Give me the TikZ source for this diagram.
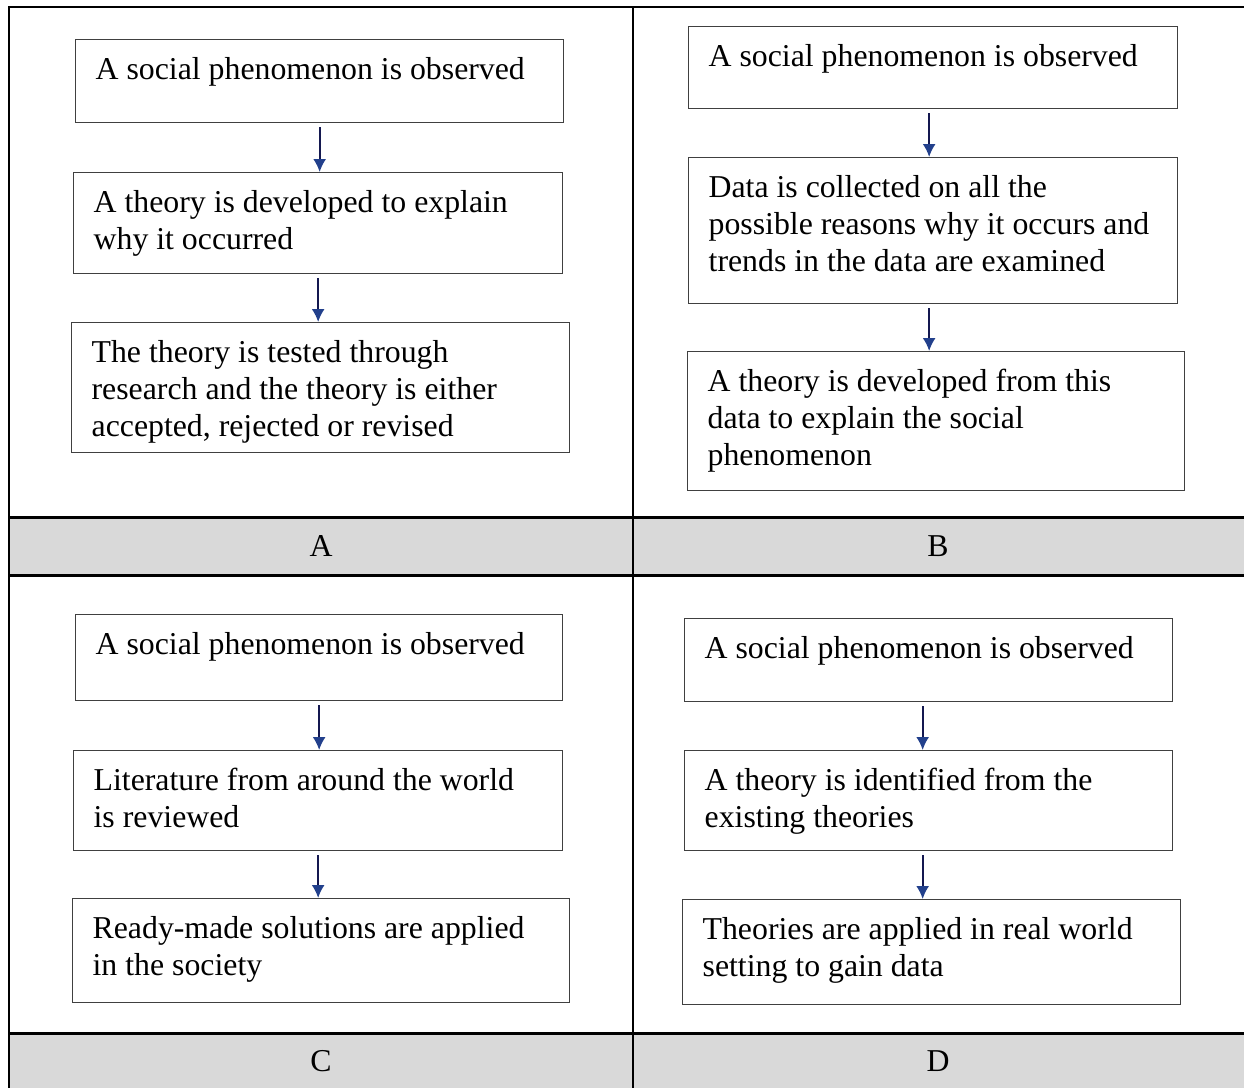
\documentclass[tikz,border=0pt]{standalone}
\usepackage{fontspec}
\setmainfont{Liberation Serif}
\usepackage{xcolor}
\usetikzlibrary{arrows.meta}

\definecolor{rowfill}{HTML}{D9D9D9}
\definecolor{boxline}{HTML}{404040}
\definecolor{arrowline}{HTML}{141850}
\definecolor{arrowhead}{HTML}{22408C}

\begin{document}
\begin{tikzpicture}[x=1pt,y=-1pt,
                    every node/.style={font=\fontsize{31.8}{36.7}\selectfont},
                    stepbox/.style 2 args={draw=boxline,line width=1.3pt,anchor=north west,
                      align=flush left,inner xsep=20pt,inner ysep=0pt,text height=40pt,
                      text width=#1pt-40pt,text depth=#2pt-40pt},
                    flow/.style={draw=arrowline,line width=1.8pt,
                      -{Latex[length=13pt,width=13pt,color=arrowhead]}},
                    rule/.style={line width=1.5pt}]

  % table frame
  \useasboundingbox (0,0) rectangle (1244,1088);
  \fill[rowfill] (9,517) rectangle (1244,575);
  \fill[rowfill] (9,1033) rectangle (1244,1088);
  \draw[rule,line width=2.6pt] (8,7) -- (1244,7);
  \draw[rule,line width=2pt] (9,6) -- (9,1088);
  \draw[rule] (633,7) -- (633,1088);
  \draw[rule,line width=3pt] (9,517) -- (1244,517);
  \draw[rule,line width=3pt] (9,575) -- (1244,575);
  \draw[rule,line width=3pt] (9,1033) -- (1244,1033);

  % panel labels
  \node (la) at (321,546) {A};
  \node (lb) at (938,546) {B};
  \node (lc) at (321,1061) {C};
  \node (ld) at (938,1061) {D};

  % A
  \node[stepbox={488}{83}] (a1) at (75,39) {A social phenomenon is observed};
  \node[stepbox={489}{101}] (a2) at (73,172) {A theory is developed to explain\\why it occurred};
  \node[stepbox={498}{130}] (a3) at (71,322) {The theory is tested through\\research and the theory is either\\accepted, rejected or revised};

  % B
  \node[stepbox={489}{82}] (b1) at (688,26) {A social phenomenon is observed};
  \node[stepbox={489}{146}] (b2) at (688,157) {Data is collected on all the\\possible reasons why it occurs and\\trends in the data are examined};
  \node[stepbox={497}{139}] (b3) at (687,351) {A theory is developed from this\\data to explain the social\\phenomenon};

  % C
  \node[stepbox={487}{86}] (c1) at (75,614) {A social phenomenon is observed};
  \node[stepbox={489}{100}] (c2) at (73,750) {Literature from around the world\\is reviewed};
  \node[stepbox={497}{104}] (c3) at (72,898) {Ready-made solutions are applied\\in the society};

  % D
  \node[stepbox={488}{83}] (d1) at (684,618) {A social phenomenon is observed};
  \node[stepbox={488}{100}] (d2) at (684,750) {A theory is identified from the\\existing theories};
  \node[stepbox={498}{105}] (d3) at (682,899) {Theories are applied in real world\\setting to gain data};

  % arrows
  \draw[flow] ([yshift=-4pt]a1.south) -- (a1.south |- a2.north);
  \draw[flow] ([yshift=-4pt]a2.south) -- (a2.south |- a3.north);
  \draw[flow] ([xshift=-4pt,yshift=-4pt]b1.south) -- ([xshift=-4pt]b1.south |- b2.north);
  \draw[flow] ([xshift=-4pt,yshift=-4pt]b2.south) -- ([xshift=-4pt]b2.south |- b3.north);
  \draw[flow] ([yshift=-4pt]c1.south) -- (c1.south |- c2.north);
  \draw[flow] ([yshift=-4pt]c2.south) -- (c2.south |- c3.north);
  \draw[flow] ([xshift=-6pt,yshift=-4pt]d1.south) -- ([xshift=-6pt]d1.south |- d2.north);
  \draw[flow] ([xshift=-6pt,yshift=-4pt]d2.south) -- ([xshift=-6pt]d2.south |- d3.north);

\end{tikzpicture}
\end{document}
